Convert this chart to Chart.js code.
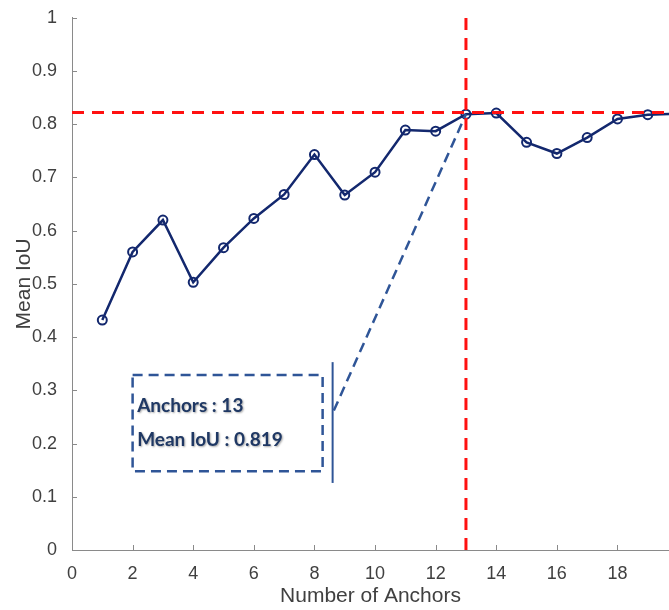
<!DOCTYPE html>
<html><head><meta charset="utf-8">
<script src="https://cdn.jsdelivr.net/npm/chart.js@4/dist/chart.umd.min.js"></script>
<style>html,body{margin:0;padding:0;background:#fff}</style>
</head><body>
<canvas id="c" width="669" height="610"></canvas>
<script>
const anchors = [1,2,3,4,5,6,7,8,9,10,11,12,13,14,15,16,17,18,19,20];
const meanIoU = [0.432,0.560,0.620,0.503,0.568,0.623,0.668,0.743,0.667,0.710,0.789,0.787,0.819,0.821,0.766,0.745,0.775,0.810,0.818,0.820];
const xTickValues = [0,2,4,6,8,10,12,14,16,18];
const yTickValues = [0,0.1,0.2,0.3,0.4,0.5,0.6,0.7,0.8,0.9,1];
const bestAnchors = 13;
const bestIoU = 0.819;
const refIoU = 0.822;
const annotLines = ['Anchors : ' + bestAnchors, 'Mean IoU : ' + bestIoU];

const FONT = "'Liberation Sans', Arial, sans-serif";

const decor = {
  id: 'decor',
  afterDatasetsDraw(chart) {
    const {ctx, chartArea: ca, scales: {x, y}} = chart;
    ctx.save();
    // inward tick marks
    ctx.strokeStyle = '#8a8a8a'; ctx.lineWidth = 1;
    ctx.beginPath();
    xTickValues.forEach(v => { const px = Math.round(x.getPixelForValue(v)) + 0.5; ctx.moveTo(px, ca.bottom); ctx.lineTo(px, ca.bottom - 5); });
    yTickValues.forEach(v => { const py = Math.round(y.getPixelForValue(v)) + 0.5; ctx.moveTo(ca.left, py); ctx.lineTo(ca.left + 5, py); });
    ctx.stroke();

    // annotation box
    const bx0 = x.getPixelForValue(2.0), bx1 = x.getPixelForValue(8.27);
    const by0 = y.getPixelForValue(0.329), by1 = y.getPixelForValue(0.148);
    ctx.strokeStyle = '#2f5597'; ctx.lineWidth = 2.5; ctx.setLineDash([10, 6]);
    ctx.strokeRect(bx0, by0, bx1 - bx0, by1 - by0);
    // connector
    ctx.beginPath();
    ctx.moveTo(x.getPixelForValue(8.64), y.getPixelForValue(0.262));
    ctx.lineTo(x.getPixelForValue(bestAnchors), y.getPixelForValue(bestIoU));
    ctx.stroke();
    // solid bar
    ctx.setLineDash([]); ctx.lineWidth = 2;
    ctx.beginPath();
    ctx.moveTo(x.getPixelForValue(8.6), y.getPixelForValue(0.353));
    ctx.lineTo(x.getPixelForValue(8.6), y.getPixelForValue(0.126));
    ctx.stroke();
    // text
    ctx.font = "bold 19px Lato, 'Open Sans', sans-serif";
    ctx.fillStyle = '#1f3864';
    ctx.textBaseline = 'middle';
    ctx.shadowColor = 'rgba(0,0,0,0.35)'; ctx.shadowOffsetX = 1; ctx.shadowOffsetY = 1; ctx.shadowBlur = 2;
    ctx.fillText(annotLines[0], x.getPixelForValue(2.15), y.getPixelForValue(0.271));
    ctx.fillText(annotLines[1], x.getPixelForValue(2.15), y.getPixelForValue(0.206));
    ctx.shadowColor = 'transparent';

    // red reference lines
    ctx.strokeStyle = '#ff1010'; ctx.lineWidth = 3; ctx.setLineDash([12, 8]);
    ctx.beginPath();
    const ry = y.getPixelForValue(refIoU);
    ctx.moveTo(ca.left, ry); ctx.lineTo(ca.right, ry);
    const rx = x.getPixelForValue(bestAnchors);
    ctx.moveTo(rx, ca.bottom); ctx.lineTo(rx, ca.top);
    ctx.stroke();
    ctx.restore();
  }
};

new Chart(document.getElementById('c'), {
  type: 'line',
  data: {
    datasets: [{
      data: anchors.map((a, i) => ({x: a, y: meanIoU[i]})),
      borderColor: '#13286e',
      borderWidth: 2.5,
      pointRadius: 4.5,
      pointBorderWidth: 2,
      pointBackgroundColor: 'rgba(255,255,255,0)',
      pointBorderColor: '#13286e',
      tension: 0
    }]
  },
  options: {
    responsive: false,
    animation: false,
    layout: {autoPadding: false, padding: {top: 15, right: 0, left: 0, bottom: 0}},
    plugins: {legend: {display: false}, tooltip: {enabled: false}},
    scales: {
      x: {
        type: 'linear', min: 0, max: 19.7,
        afterFit: s => { s.height = 60; s.paddingRight = 0; s.paddingLeft = 0; },
        afterBuildTicks: s => { s.ticks = xTickValues.map(v => ({value: v})); },
        grid: {display: false},
        border: {display: true, color: '#8a8a8a', width: 1},
        ticks: {font: {family: FONT, size: 18}, color: '#404040', padding: 5, maxRotation: 0, callback: v => String(v)},
        title: {display: true, text: 'Number of Anchors', font: {family: FONT, size: 21}, color: '#404040', padding: {top: 0, bottom: 1}}
      },
      y: {
        min: 0, max: 1,
        afterFit: s => { s.width = 72; },
        afterBuildTicks: s => { s.ticks = yTickValues.map(v => ({value: v})); },
        grid: {display: false},
        border: {display: true, color: '#8a8a8a', width: 1},
        ticks: {font: {family: FONT, size: 18}, color: '#404040', padding: 7, callback: v => String(v)},
        title: {display: true, text: 'Mean IoU', font: {family: FONT, size: 21}, color: '#404040', padding: {top: 12, bottom: 0}}
      }
    }
  },
  plugins: [decor]
});
</script>
</body></html>
